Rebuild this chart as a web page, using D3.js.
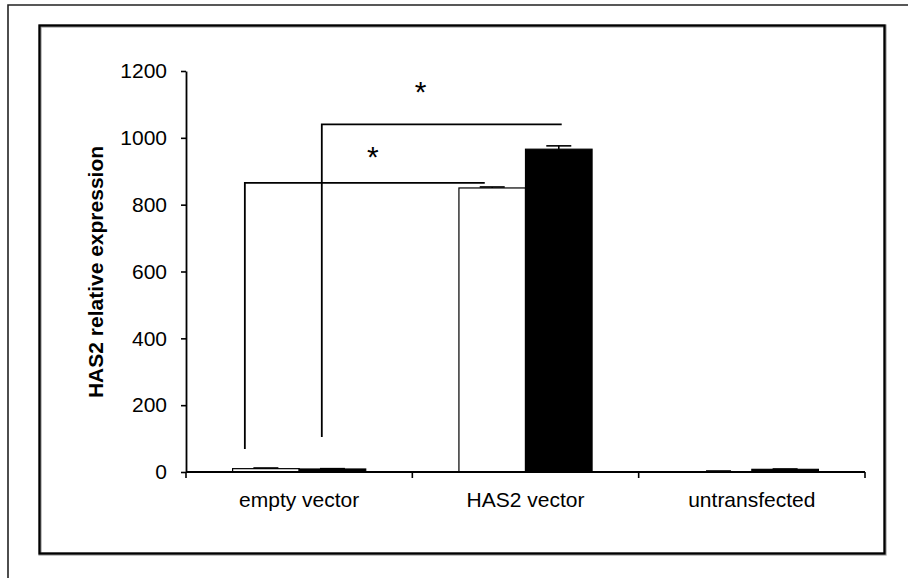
<!DOCTYPE html>
<html>
<head>
<meta charset="utf-8">
<script src="https://cdn.jsdelivr.net/npm/d3@7"></script>
<style>
  html, body { margin: 0; padding: 0; background: #fff; }
  svg { display: block; }
  text { font-family: Arial, "Liberation Sans", sans-serif; fill: #000; }
</style>
</head>
<body>
<svg id="chart" width="908" height="578"></svg>
<script>
// Groups along the x axis
const categories = ["empty vector", "HAS2 vector", "untransfected"];
// Two series per group: open bars and filled bars
const seriesNames = ["open", "filled"];
const openValues   = [10, 850, 1];
const openErrors   = [2, 3, 2];
const filledValues = [9, 966, 8];
const filledErrors = [1, 10, 1];
const yTicks = [0, 200, 400, 600, 800, 1000, 1200];

// Significance brackets, x given in category units (0..3), y in data units
const bracketX1   = [0.26, 0.60];
const bracketX2   = [1.32, 1.66];
const bracketTop  = [865, 1040];
const bracketBase = [69, 105];
const starX = [0.825, 1.037];
const starY = [955, 1150];

const svg = d3.select("#chart");

// Outer frame (top and left edges)
svg.append("path")
  .attr("d", "M8,578 L8,5 L908,5")
  .attr("fill", "none").attr("stroke", "#222").attr("stroke-width", 1.6);

// Inner chart box
svg.append("rect")
  .attr("x", 40).attr("y", 26).attr("width", 845).attr("height", 528)
  .attr("fill", "none").attr("stroke", "#999").attr("stroke-width", 3.2);
svg.append("rect")
  .attr("x", 39.5).attr("y", 25.5).attr("width", 845).attr("height", 528)
  .attr("fill", "none").attr("stroke", "#000").attr("stroke-width", 2.2);

const plot = { left: 186, right: 865, top: 71, bottom: 472 };

const x = d3.scaleBand().domain(categories).range([plot.left, plot.right]).padding(0);
const xSub = d3.scaleBand().domain(seriesNames).range([0, x.bandwidth()])
  .paddingInner(0).paddingOuter(0.7);
const xc = d3.scaleLinear().domain([0, 3]).range([plot.left, plot.right]);
const y = d3.scaleLinear().domain([0, 1200]).range([plot.bottom, plot.top]);

const rows = categories.map((c, i) => ([
  { cat: c, s: "open", v: openValues[i], e: openErrors[i] },
  { cat: c, s: "filled", v: filledValues[i], e: filledErrors[i] }
])).flat();

// Bars
svg.append("g").selectAll("rect").data(rows).join("rect")
  .attr("x", d => x(d.cat) + xSub(d.s))
  .attr("y", d => y(d.v))
  .attr("width", xSub.bandwidth())
  .attr("height", d => y(0) - y(d.v))
  .attr("fill", d => d.s === "open" ? "#fff" : "#000")
  .attr("stroke", "#000").attr("stroke-width", 1.2);

// Error bars (upper whisker with cap)
const eb = svg.append("g").attr("stroke", "#000").attr("stroke-width", 1.6);
rows.forEach(d => {
  const cx = x(d.cat) + xSub(d.s) + xSub.bandwidth() / 2;
  eb.append("line").attr("x1", cx).attr("x2", cx).attr("y1", y(d.v)).attr("y2", y(d.v + d.e));
  eb.append("line").attr("x1", cx - 12.5).attr("x2", cx + 12.5).attr("y1", y(d.v + d.e)).attr("y2", y(d.v + d.e));
});

// Y axis
const yAxis = svg.append("g").attr("transform", `translate(${plot.left},0)`)
  .call(d3.axisLeft(y).tickValues(yTicks).tickFormat(d3.format("d"))
    .tickSize(5).tickPadding(14).tickSizeOuter(0));
yAxis.select(".domain").attr("stroke", "#000").attr("stroke-width", 1.8);
yAxis.selectAll(".tick line").attr("stroke", "#000").attr("stroke-width", 1.6);
yAxis.selectAll(".tick text").attr("font-size", 21).attr("font-family", "Arial, 'Liberation Sans', sans-serif");

// X axis: baseline, boundary ticks, centred labels
const xg = svg.append("g");
xg.append("line").attr("x1", plot.left).attr("x2", plot.right)
  .attr("y1", y(0)).attr("y2", y(0)).attr("stroke", "#000").attr("stroke-width", 1.8);
const bounds = categories.map(c => x(c)).concat([x.range()[1]]);
xg.selectAll("line.tk").data(bounds).join("line").attr("class", "tk")
  .attr("x1", d => d).attr("x2", d => d)
  .attr("y1", y(0)).attr("y2", y(0) + 6)
  .attr("stroke", "#000").attr("stroke-width", 1.6);
xg.selectAll("text").data(categories).join("text")
  .attr("x", d => x(d) + x.bandwidth() / 2)
  .attr("y", 507)
  .attr("text-anchor", "middle")
  .attr("font-size", 21)
  .text(d => d);

// Y axis title
svg.append("text")
  .attr("transform", "translate(103,272) rotate(-90)")
  .attr("text-anchor", "middle")
  .attr("font-size", 21)
  .attr("font-weight", "bold")
  .text("HAS2 relative expression");

// Significance brackets
const br = svg.append("g").attr("fill", "none").attr("stroke", "#000").attr("stroke-width", 1.8);
bracketX1.forEach((bx, i) => {
  br.append("path").attr("d",
    `M${xc(bx)},${y(bracketBase[i])} L${xc(bx)},${y(bracketTop[i])} L${xc(bracketX2[i])},${y(bracketTop[i])}`);
});
svg.append("g").selectAll("text").data(starX).join("text")
  .attr("x", d => xc(d))
  .attr("y", (d, i) => y(starY[i]) + 14)
  .attr("text-anchor", "middle")
  .attr("font-family", "'Liberation Serif', 'Times New Roman', serif")
  .attr("font-size", 30)
  .text("*");
</script>
</body>
</html>
